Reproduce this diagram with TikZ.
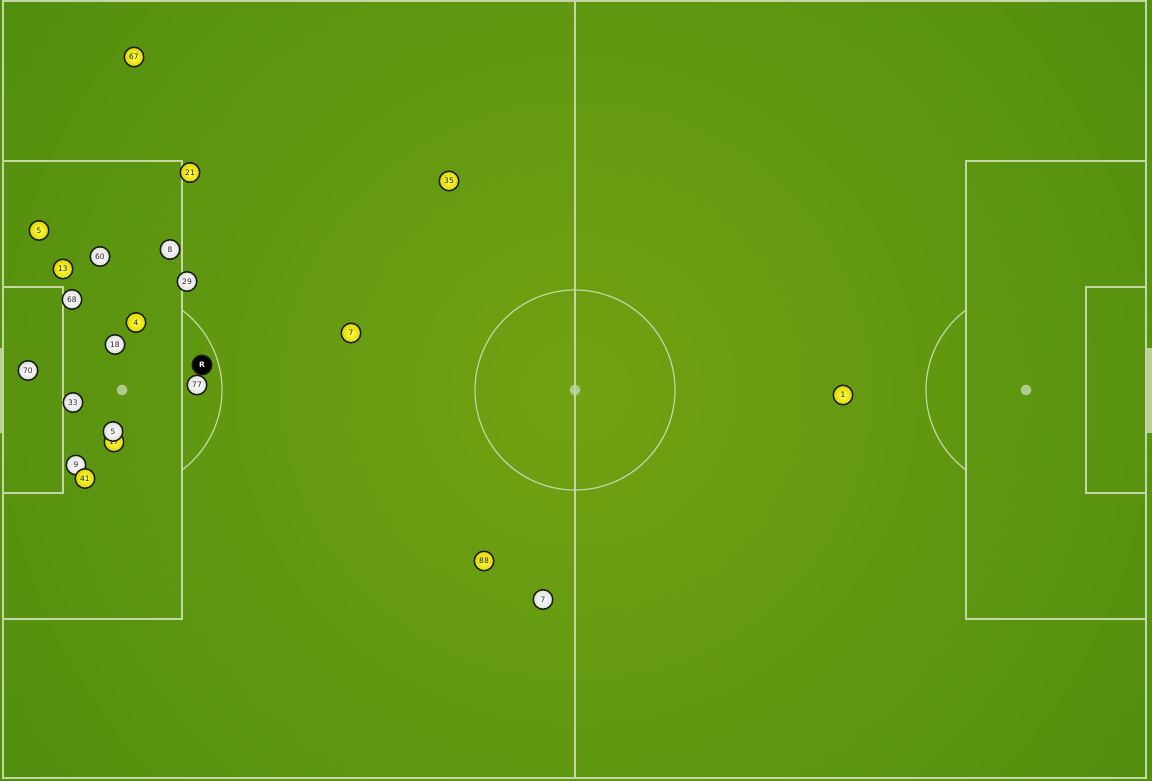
\documentclass[tikz,border=0pt]{standalone}
\usepackage{fontspec}
\newfontfamily\plfont{DejaVu Sans}
\begin{document}
\begin{tikzpicture}[x=1pt,y=-1pt,
  pline/.style={draw=linec,line width=1.2pt},
  player/.style={circle,minimum size=19.5pt,inner sep=0pt,line width=1.5pt,draw=ringc,font=\plfont\fontsize{7.5}{7.5}\selectfont},
  yel/.style={player,inner color=yellow!70!white,outer color=yelo,text=black!85},
  wht/.style={player,inner color=white,outer color=black!12,text=black!85},
  ref/.style={player,fill=black,text=white,font=\plfont\bfseries\fontsize{7.5}{7.5}\selectfont},
  spot/.style={circle,fill=linec,inner sep=0pt,minimum size=11pt,opacity=0.8}]
\definecolor{linec}{RGB}{196,214,166}
\definecolor{goalc}{RGB}{188,208,150}
\definecolor{ringc}{RGB}{25,30,10}
\definecolor{yelo}{RGB}{225,214,0}
\definecolor{grin}{RGB}{114,162,18}
\definecolor{grout}{RGB}{76,139,14}
\useasboundingbox (0,0) rectangle (1152,781);
\shade[inner color=grin,outer color=grout] (-250,-420) rectangle (1402,1201);
% goals
\fill[goalc] (0,348) rectangle (4,433);
\fill[goalc] (1146,348) rectangle (1152,433);
% pitch lines
\draw[pline] (3,1) rectangle (1146,778);
\draw[pline] (575,1) -- (575,778);
\draw[pline] (575,390) circle[radius=100];
\draw[pline] (3,161) rectangle (182,619);
\draw[pline] (3,287) rectangle (63,493);
\draw[pline] (966,161) rectangle (1146,619);
\draw[pline] (1086,287) rectangle (1146,493);
\begin{scope}
\clip (182,0) rectangle (400,781);
\draw[pline] (122,390) circle[radius=100];
\end{scope}
\begin{scope}
\clip (700,0) rectangle (966,781);
\draw[pline] (1026,390) circle[radius=100];
\end{scope}
\node[spot] (cs) at (575,390) {};
\node[spot] (lps) at (122,390) {};
\node[spot] (rps) at (1026,390) {};
% players
\node[yel] (y67) at (134,57) {67};
\node[yel] (y21) at (190,172.5) {21};
\node[yel] (y35) at (449,181) {35};
\node[yel] (y5) at (39,230.5) {5};
\node[wht] (w60) at (100,256.5) {60};
\node[wht] (w8) at (170,249.5) {8};
\node[yel] (y13) at (63,269) {13};
\node[wht] (w29) at (187,281.5) {29};
\node[wht] (w68) at (72,299.5) {68};
\node[yel] (y4) at (136,322.5) {4};
\node[yel] (y7) at (351,333) {7};
\node[wht] (w18) at (115,344.5) {18};
\node[wht] (w70) at (28,370.5) {70};
\node[ref] (r) at (202,365) {R};
\node[wht] (w77) at (197,385) {77};
\node[wht] (w33) at (73,402.5) {33};
\node[yel] (y17) at (114,442) {17};
\node[wht] (w5) at (113,431.5) {5};
\node[wht] (w9) at (76,465) {9};
\node[yel] (y41) at (85,478.5) {41};
\node[yel] (y1) at (843,395) {1};
\node[yel] (y88) at (484,561) {88};
\node[wht] (w7) at (543,599.5) {7};
\end{tikzpicture}
\end{document}
